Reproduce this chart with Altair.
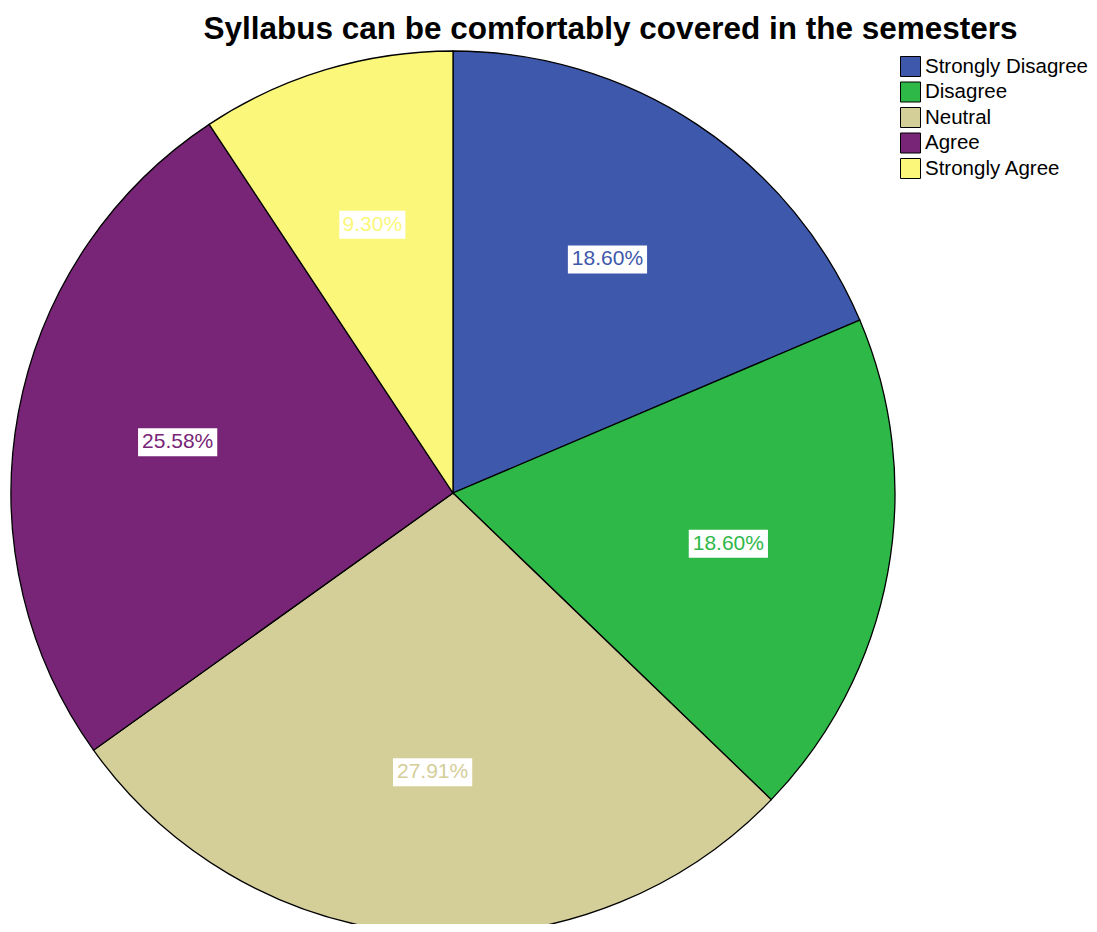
import altair as alt
import pandas as pd

categories = ["Strongly Disagree", "Disagree", "Neutral", "Agree", "Strongly Agree"]
percents = [18.60, 18.60, 27.91, 25.58, 9.30]
labels = ["18.60%", "18.60%", "27.91%", "25.58%", "9.30%"]
colors = ["#3E58AC", "#2EB848", "#D4CE98", "#782577", "#FAF77A"]

df = pd.DataFrame({
    "category": categories,
    "value": percents,
    "label": labels,
    "order": list(range(len(categories))),
})

CX, CY, R = 445, 440, 442
LR = 280

color_scale = alt.Scale(domain=categories, range=colors)
base = alt.Chart(df)

pie = base.mark_arc(radius=R, stroke="black", strokeWidth=1.3).encode(
    theta=alt.Theta("value:Q", stack=True),
    order=alt.Order("order:Q"),
    color=alt.Color(
        "category:N",
        scale=color_scale,
        legend=alt.Legend(
            title=None, orient="none", legendX=892, legendY=3,
            symbolType="square", symbolSize=400, symbolStrokeColor="black",
            symbolStrokeWidth=1, labelFontSize=20.5, labelFont="Liberation Sans",
            labelColor="black", rowPadding=0.5, labelOffset=4, labelLimit=400,
        ),
    ),
    x=alt.value(CX),
    y=alt.value(CY),
)

lab = (
    base.transform_joinaggregate(total="sum(value)")
    .transform_window(cum="sum(value)", sort=[alt.SortField("order")], frame=[None, 0])
    .transform_calculate(
        mid="(datum.cum - datum.value/2)/datum.total*2*PI",
    )
    .transform_calculate(
        lx=f"{CX} + {LR}*sin(datum.mid)",
        ly=f"{CY} - {LR}*cos(datum.mid)",
        bw="length(datum.label)*13.2",
    )
    .transform_calculate(
        x1="datum.lx - datum.bw/2",
        x2="datum.lx + datum.bw/2",
        y1="datum.ly - 14",
        y2="datum.ly + 14",
    )
)

rect = lab.mark_rect(color="white").encode(
    x=alt.X("x1:Q", scale=None, axis=None),
    x2="x2:Q",
    y=alt.Y("y1:Q", scale=None, axis=None),
    y2="y2:Q",
)

text = lab.mark_text(fontSize=21, font="Liberation Sans", baseline="middle", align="center").encode(
    x=alt.X("lx:Q", scale=None, axis=None),
    y=alt.Y("ly:Q", scale=None, axis=None),
    text="label:N",
    color=alt.Color("category:N", scale=color_scale, legend=None),
)

chart = alt.layer(pie, rect, text).properties(
    width=1081,
    height=871,
    padding={"top": 45, "left": 0, "right": 0, "bottom": 0},
    autosize=alt.AutoSizeParams(type="none"),
    title=alt.Title(
        "Syllabus can be comfortably covered in the semesters",
        fontSize=31.5, font="Liberation Sans", fontWeight="bold",
        anchor="middle", dx=62, offset=3, color="black",
    ),
).configure_view(stroke=None)

chart.save("out.html", embed_options={"renderer": "svg", "actions": False})
